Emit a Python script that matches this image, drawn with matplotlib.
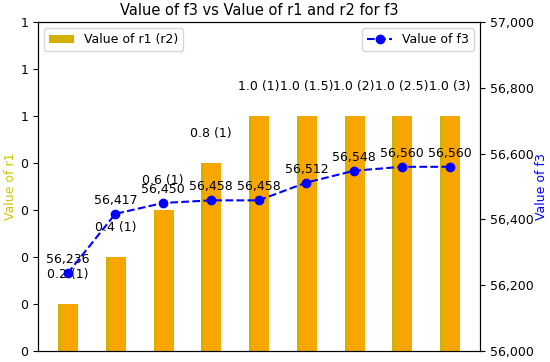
import matplotlib
matplotlib.use("Agg")
import matplotlib.pyplot as plt
from matplotlib.ticker import FuncFormatter
import numpy as np

# values
r1 = [0.2, 0.4, 0.6, 0.8, 1.0, 1.0, 1.0, 1.0, 1.0]
r2 = ["1", "1", "1", "1", "1", "1.5", "2", "2.5", "3"]
f3 = [56236, 56417, 56450, 56458, 56458, 56512, 56548, 56560, 56560]

x = np.arange(len(r1))

fig = plt.figure(figsize=(5.5, 3.62), dpi=100)
ax1 = fig.add_axes([0.069, 0.0304, 0.804, 0.9086])
ax2 = ax1.twinx()

# bars (gold underneath, orange on top)
ax1.bar(x, r1, width=0.4, color="#d4b000", label="Value of r1 (r2)")
ax1.bar(x + 0.04, r1, width=0.36, color="#f7a600")
for xi, v, s in zip(x, r1, r2):
    ax1.text(xi, v + 0.1, f"{v:.1f} ({s})", ha="center", va="bottom", fontsize=9)

ax1.set_ylim(0, 1.4)
ax1.set_yticks(np.arange(0, 1.41, 0.2))
ax1.yaxis.set_major_formatter(FuncFormatter(lambda v, p: f"{int(v + 1e-9):,}"))
ax1.set_ylabel("Value of r1", color="#cfc400", fontsize=9, labelpad=2)
ax1.set_xticks([])
ax1.tick_params(labelsize=9)
ax1.spines["bottom"].set_color("#6a1c22")

# f3 line
ax2.plot(x, f3, "b--o", markersize=6, label="Value of f3")
for xi, v in zip(x, f3):
    ax2.annotate(f"{v:,}", (xi, v), xytext=(0, 5), textcoords="offset points",
                 ha="center", va="bottom", fontsize=9)
ax2.set_ylim(56000, 57000)
ax2.set_yticks(np.arange(56000, 57001, 200))
ax2.yaxis.set_major_formatter(FuncFormatter(lambda v, p: f"{int(v):,}"))
ax2.set_ylabel("Value of f3", color="b", fontsize=9, labelpad=1)
ax2.tick_params(labelsize=9)

ax1.legend(loc="upper left", fontsize=9)
ax2.legend(loc="upper right", fontsize=9)
ax1.set_title("Value of f3 vs Value of r1 and r2 for f3", fontsize=10.5, pad=5)

fig.savefig("out.png", dpi=100)
